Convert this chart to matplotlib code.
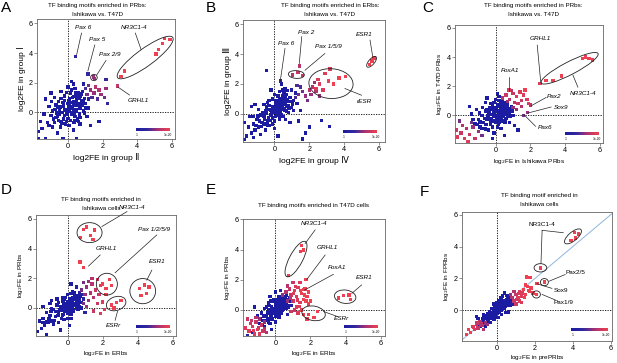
import numpy as np
import matplotlib
matplotlib.use("Agg")
import matplotlib.pyplot as plt
from matplotlib.patches import Ellipse
from matplotlib.colors import LinearSegmentedColormap

plt.rcParams["font.family"] = ["Liberation Sans", "DejaVu Sans"]

# ---- data: (x, y, significance 0=blue .. 1=red) ----
pts_a = [
    (-0.6, -0.3, 0), (-0.5, 0.1, 0), (-0.4, -0.6, 0), (-0.3, 0.4, 0), (-0.2, -0.2, 0), (-0.1, 0.2, 0),
    (0.0, 0.6, 0), (0.0, -0.4, 0), (0.1, 0.1, 0), (0.1, 0.9, 0), (0.2, 0.4, 0), (0.2, -0.1, 0),
    (0.3, 0.7, 0), (0.3, 0.2, 0), (0.4, 0.5, 0), (0.4, -0.3, 0), (0.5, 0.9, 0), (0.5, 0.2, 0),
    (0.6, 0.6, 0), (0.7, 1.1, 0), (0.7, 0.3, 0), (0.8, 0.8, 0), (-0.7, 0.5, 0), (-0.8, -0.7, 0),
    (-0.2, 0.8, 0), (0.15, 1.3, 0), (-0.45, -1.0, 0), (0.35, -0.7, 0), (0.9, 0.1, 0), (-0.15, -0.8, 0),
    (-0.35, 0.0, 0), (0.25, 0.0, 0), (0.05, 0.35, 0), (0.45, 0.05, 0), (-0.05, 0.0, 0), (0.6, 1.3, 0),
    (-0.55, 0.75, 0), (0.85, 1.4, 0), (1.0, 0.6, 0), (-1.0, -0.2, 0), (-1.1, 0.4, 0), (-0.9, -1.0, 0),
    (-1.2, -0.7, 0), (-1.4, -0.1, 0), (-1.5, -1.1, 0), (-1.6, -0.6, 0), (-1.7, -1.3, 0), (-1.7, -1.75, 0),
    (-1.3, -1.75, 0), (-0.6, -1.4, 0), (-0.3, -1.75, 0), (0.5, -1.75, 0), (0.3, -1.2, 0), (0.7, -0.8, 0),
    (1.1, -0.3, 0), (1.2, 0.3, 0), (-0.8, 1.0, 0), (-0.4, 1.4, 0), (0.0, 1.7, 0), (0.3, 1.9, 0),
    (0.4, 1.6, 0), (0.9, 1.9, 0.1), (1.2, 0.9, 0.1), (-1.3, 0.9, 0), (-0.2, 1.1, 0), (0.55, -0.45, 0),
    (-0.65, -0.05, 0), (0.75, 0.55, 0), (0.15, 0.65, 0), (-0.25, 0.55, 0), (0.65, -0.1, 0), (0.95, 0.95, 0),
    (-0.05, -0.15, 0), (0.35, 1.05, 0), (-0.75, 0.2, 0), (1.3, -0.9, 0), (1.8, -0.6, 0), (0.2, 2.1, 0),
    (-1.0, 1.3, 0),
    (-0.45, 0.35, 0), (-0.25, -0.45, 0), (0.05, 0.8, 0), (0.25, 1.0, 0), (0.45, 0.75, 0), (0.65, 0.95, 0),
    (0.55, 0.45, 0), (0.35, -0.1, 0), (0.15, -0.55, 0), (-0.1, -0.6, 0), (-0.3, 0.65, 0), (-0.5, -0.15, 0),
    (0.8, 0.5, 0), (0.9, 0.75, 0), (0.7, -0.35, 0), (0.1, 0.45, 0), (0.0, 0.15, 0), (-0.2, 0.15, 0),
    (0.3, 0.5, 0), (0.5, 0.6, 0), (-0.6, 0.35, 0), (-0.7, -0.35, 0), (-0.9, 0.1, 0), (0.2, 1.5, 0),
    (-0.1, 1.35, 0), (0.55, 1.1, 0), (0.75, 1.25, 0), (1.05, 0.3, 0), (0.95, -0.05, 0), (0.4, -0.55, 0),
    (-0.35, -0.75, 0), (-0.55, -0.55, 0), (-0.85, -0.45, 0), (-1.1, -0.9, 0), (-0.95, 0.75, 0), (0.05, -0.9, 0),
    (0.45, 1.3, 0), (-0.4, 0.95, 0), (0.6, -0.6, 0), (0.25, 0.25, 0),
    (1.1, 1.2, 0.5), (1.3, 1.5, 0.6), (1.5, 1.3, 0.6), (1.6, 1.7, 0.7), (1.8, 1.5, 0.7), (1.4, 1.0, 0.4),
    (1.9, 1.2, 0.6), (2.1, 1.0, 0.5), (2.2, 1.6, 0.6), (1.2, 1.8, 0.5), (1.7, 0.9, 0.4), (2.3, 0.6, 0.3),
    (1.0, 1.6, 0.4), (2.2, 2.2, 0.3),
    (0.44, 3.75, 0.2), (1.15, 2.6, 0.3), (1.48, 2.38, 0.6), (1.55, 2.3, 0.6),
    (3.27, 2.8, 1), (3.08, 2.4, 1), (5.1, 3.93, 1), (5.25, 4.25, 1), (5.48, 4.65, 1), (5.58, 5.0, 1),
    (5.9, 4.9, 1), (2.85, 1.78, 0.8),
]

pts_b = [
    (-0.6, -0.2, 0), (-0.5, 0.2, 0), (-0.4, -0.5, 0), (-0.3, 0.3, 0), (-0.2, -0.1, 0), (-0.1, 0.5, 0),
    (0.0, 0.1, 0), (0.0, -0.5, 0), (0.1, 0.4, 0), (0.1, 0.9, 0), (0.2, 0.2, 0), (0.2, 0.7, 0),
    (0.3, 0.5, 0), (0.3, 1.0, 0), (0.4, 0.3, 0), (0.4, 0.8, 0), (0.5, 0.6, 0), (0.5, 1.2, 0),
    (0.6, 0.2, 0), (0.6, 0.9, 0), (0.7, 0.5, 0), (0.7, 1.3, 0), (0.8, 0.8, 0), (0.9, 1.1, 0),
    (-0.7, -0.6, 0), (-0.8, -0.1, 0), (-0.9, -0.9, 0), (-1.0, -0.4, 0), (-1.1, -1.1, 0), (-1.2, -0.7, 0),
    (-1.3, -1.3, 0), (-1.4, -0.2, 0), (-1.5, -0.9, 0), (-1.6, -1.5, 0), (-1.7, -0.6, 0), (-1.7, -1.75, 0),
    (-1.2, -1.6, 0), (-0.8, -1.4, 0), (-0.5, -1.1, 0), (-0.3, -0.8, 0), (0.0, -1.0, 0), (0.3, -0.4, 0),
    (0.5, -0.2, 0), (0.8, 0.1, 0), (1.0, 0.4, 0), (1.1, 0.9, 0), (1.2, 1.4, 0.1), (1.0, 1.6, 0.1),
    (0.6, 1.7, 0), (0.3, 1.5, 0), (0.0, 1.3, 0), (-0.3, 0.9, 0), (-0.6, 0.6, 0), (-0.9, 0.3, 0),
    (-1.1, 0.6, 0), (-0.2, 1.6, 0), (0.4, 2.0, 0), (0.2, -0.1, 0), (-0.05, 0.25, 0), (0.35, 0.15, 0),
    (0.15, 0.55, 0), (0.45, 0.45, 0), (0.25, 0.85, 0), (-0.15, 0.05, 0), (0.55, 0.75, 0), (-0.35, -0.25, 0),
    (0.65, 0.65, 0), (0.05, -0.2, 0), (0.75, 0.95, 0), (-0.45, 0.45, 0), (0.85, 0.35, 0), (1.3, 0.7, 0),
    (1.5, 0.2, 0), (1.4, -0.5, 0), (0.9, -0.6, 0), (1.8, -1.3, 0), (2.0, -0.9, 0), (2.7, -0.45, 0),
    (3.15, -0.85, 0), (-0.44, 2.88, 0), (-1.3, 0.5, 0), (0.2, -1.5, 0), (1.6, -1.7, 0),
    (-0.45, 0.05, 0), (-0.25, -0.45, 0), (0.05, 0.7, 0), (0.25, 0.35, 0), (0.45, 1.05, 0), (0.65, 1.1, 0),
    (0.55, 0.35, 0), (0.35, 0.65, 0), (0.15, 0.05, 0), (-0.1, -0.3, 0), (-0.3, 0.55, 0), (-0.55, -0.4, 0),
    (0.8, 0.55, 0), (0.95, 0.8, 0), (0.7, 0.15, 0), (0.1, 0.2, 0), (0.0, 0.45, 0), (-0.2, 0.25, 0),
    (0.3, -0.15, 0), (0.5, 0.95, 0), (-0.65, 0.05, 0), (-0.75, -0.85, 0), (-0.95, -0.15, 0), (0.2, 1.2, 0),
    (-0.1, 1.0, 0), (0.55, 1.45, 0), (0.75, 1.55, 0), (1.05, 0.65, 0), (1.1, 0.2, 0), (0.4, -0.05, 0),
    (-0.4, -0.75, 0), (-0.6, -0.7, 0), (-0.85, -0.5, 0), (-1.05, -0.8, 0), (-1.2, -0.2, 0), (-0.1, -0.7, 0),
    (0.45, 1.6, 0), (-0.4, 0.75, 0), (0.65, -0.4, 0), (0.25, 0.6, 0),
    (1.2, 1.1, 0.4), (1.4, 1.3, 0.5), (1.6, 1.5, 0.5), (1.8, 1.2, 0.6), (2.0, 1.6, 0.7), (2.2, 1.8, 0.7),
    (2.1, 1.3, 0.6), (2.4, 1.5, 0.7), (1.5, 1.8, 0.4), (1.3, 1.9, 0.4), (2.6, 1.2, 0.6), (1.9, 0.9, 0.5),
    (2.3, 2.1, 0.6),
    (0.34, 2.2, 0.2), (1.45, 3.2, 0.7), (1.05, 2.6, 0.7), (1.35, 2.75, 0.8), (1.6, 2.55, 0.8),
    (2.4, 1.7, 0.9), (2.6, 2.0, 0.9), (2.9, 2.7, 0.9), (3.1, 2.2, 1), (3.4, 2.0, 1), (3.7, 2.4, 1),
    (4.1, 2.5, 1), (2.8, 1.6, 0.9), (3.2, 3.0, 0.9), (2.5, 2.3, 0.9),
    (5.45, 3.3, 1), (5.6, 3.55, 1), (5.72, 3.75, 1),
]

pts_c = [
    (-0.5, -0.3, 0), (-0.4, 0.2, 0), (-0.3, -0.6, 0), (-0.2, 0.4, 0), (-0.1, -0.1, 0), (0.0, 0.3, 0),
    (0.0, -0.5, 0), (0.1, 0.0, 0), (0.1, 0.7, 0), (0.2, 0.3, 0), (0.2, -0.3, 0), (0.3, 0.5, 0),
    (0.3, 0.0, 0), (0.4, 0.2, 0), (0.4, -0.4, 0), (0.5, 0.4, 0), (0.5, 0.9, 0), (0.6, 0.1, 0),
    (0.6, -0.2, 0), (0.7, 0.5, 0), (-0.6, 0.3, 0), (-0.7, -0.5, 0), (-0.8, 0.0, 0), (-0.9, -0.8, 0),
    (-1.0, -0.3, 0), (-1.1, 0.4, 0), (-1.2, -0.6, 0), (-0.4, -1.0, 0), (-0.1, -1.2, 0), (0.3, -0.9, 0),
    (0.8, -0.5, 0), (1.0, 0.0, 0), (0.9, 0.6, 0), (0.3, 1.0, 0), (0.0, 1.1, 0), (-0.3, 0.8, 0),
    (-0.5, 1.2, 0), (0.1, 1.5, 0), (-0.2, -1.6, 0), (0.5, -1.4, 0), (0.15, 0.15, 0), (-0.05, 0.55, 0),
    (0.25, -0.15, 0), (0.35, 0.35, 0), (-0.25, 0.05, 0), (0.45, 0.65, 0), (0.05, -0.25, 0), (-0.15, -0.4, 0),
    (0.55, 0.15, 0), (0.65, 0.75, 0), (-0.35, 0.5, 0), (0.75, 0.25, 0), (-0.45, -0.15, 0), (0.85, -0.1, 0),
    (1.1, -0.7, 0), (1.3, -1.0, 0), (-1.4, 0.1, 0), (-1.5, 0.6, 0), (-0.6, 0.9, 0), (0.2, 1.3, 0),
    (-0.45, 0.0, 0), (-0.25, -0.25, 0), (0.05, 0.45, 0), (0.25, 0.65, 0), (0.45, -0.1, 0), (0.65, 0.35, 0),
    (0.55, -0.45, 0), (0.35, -0.3, 0), (0.15, -0.6, 0), (-0.1, 0.15, 0), (-0.3, -0.35, 0), (-0.55, -0.65, 0),
    (0.8, 0.15, 0), (0.95, 0.3, 0), (0.7, -0.05, 0), (0.1, 0.3, 0), (0.0, -0.05, 0), (-0.2, 0.65, 0),
    (0.3, 0.8, 0), (0.5, 0.6, 0), (-0.65, -0.2, 0), (-0.75, 0.55, 0), (-0.95, 0.15, 0), (0.2, 1.0, 0),
    (-0.1, 0.9, 0), (0.4, 0.95, 0), (-0.8, -0.9, 0), (-1.05, -0.65, 0), (-0.5, 0.4, 0), (0.2, -0.45, 0),
    (-0.35, 0.25, 0), (0.85, 0.45, 0), (-0.6, -0.95, 0), (-0.2, -0.8, 0), (0.6, 0.55, 0), (0.1, -0.85, 0),
    (-0.9, -0.45, 0), (-1.3, -0.3, 0), (0.45, 0.3, 0), (0.25, 0.1, 0),
    (0.4, 1.2, 0.7), (0.6, 1.4, 0.8), (0.8, 1.1, 0.7), (1.0, 1.5, 0.8), (1.2, 1.3, 0.9), (1.4, 1.6, 0.9),
    (1.6, 1.4, 0.9), (1.7, 1.75, 1), (1.1, 0.9, 0.7), (1.3, 0.8, 0.8), (1.5, 1.0, 0.8), (1.8, 1.1, 0.9),
    (0.9, 1.7, 0.7), (1.2, 0.4, 0.6), (1.5, 0.6, 0.7), (1.9, 0.8, 0.9), (0.7, 0.95, 0.6), (1.0, 0.55, 0.6),
    (-2.2, -1.5, 0.9), (-2.0, -1.2, 0.8), (-1.8, -1.6, 0.9), (-1.7, -0.9, 0.7), (-1.5, -1.3, 0.8),
    (-1.3, -0.8, 0.6), (-1.2, -1.6, 0.8), (-1.0, -1.1, 0.6), (-1.9, -0.7, 0.7), (-2.3, -1.0, 0.8),
    (-1.6, -1.8, 0.9), (-0.8, -1.4, 0.5), (-1.4, -0.5, 0.5), (-2.1, -0.4, 0.5),
    (2.55, 2.2, 0.9), (2.9, 2.4, 1), (3.3, 2.4, 1), (3.8, 2.7, 1), (5.0, 3.9, 1), (5.2, 4.0, 1),
    (5.4, 3.9, 1), (5.6, 3.8, 1), (0.77, 1.75, 0.9), (2.0, 0.7, 0.7), (1.85, 0.2, 0.6), (1.6, 0.0, 0.5),
]

pts_d = [
    (-0.5, -0.3, 0), (-0.4, 0.1, 0), (-0.3, -0.5, 0), (-0.2, 0.3, 0), (-0.1, -0.1, 0), (0.0, 0.4, 0),
    (0.0, -0.4, 0), (0.1, 0.1, 0), (0.1, 0.6, 0), (0.2, 0.2, 0), (0.2, -0.2, 0), (0.3, 0.5, 0),
    (0.3, 0.0, 0), (0.4, 0.3, 0), (0.4, 0.8, 0), (0.5, 0.5, 0), (0.5, 0.0, 0), (0.6, 0.7, 0),
    (0.6, 0.2, 0), (0.7, 0.4, 0), (-0.6, 0.2, 0), (-0.7, -0.6, 0), (-0.8, -0.1, 0), (-0.9, -0.9, 0),
    (-1.0, -0.5, 0), (-1.1, -1.0, 0), (-1.2, -0.3, 0), (-1.3, -1.2, 0), (-1.4, -0.7, 0), (-1.5, -1.4, 0),
    (-1.6, -0.9, 0), (-1.7, -1.6, 0), (-1.0, 0.3, 0), (-0.5, -1.0, 0), (-0.2, -0.8, 0), (0.2, -0.7, 0),
    (0.8, 0.0, 0), (0.9, 0.6, 0.1), (0.7, 1.0, 0.1), (0.3, 1.1, 0), (0.0, 0.9, 0), (-0.3, 0.7, 0),
    (-0.6, 0.6, 0), (0.15, 0.35, 0), (-0.05, 0.15, 0), (0.25, -0.05, 0), (0.35, 0.25, 0), (-0.15, -0.25, 0),
    (0.45, 0.55, 0), (0.05, -0.15, 0), (0.55, 0.25, 0), (-0.35, -0.15, 0), (0.65, 0.45, 0), (-0.25, 0.45, 0),
    (0.1, -1.2, 0), (-0.9, 0.5, 0), (-1.4, 0.1, 0), (0.5, 1.4, 0.1), (0.2, 1.6, 0), (-0.4, -1.5, 0),
    (1.0, -0.3, 0.2), (-1.2, -1.8, 0),
    (-0.45, -0.1, 0), (-0.25, -0.45, 0), (0.05, 0.25, 0), (0.25, 0.45, 0), (0.45, 0.15, 0), (0.65, 0.65, 0),
    (0.55, 0.85, 0), (0.35, -0.2, 0), (0.15, -0.4, 0), (-0.1, 0.2, 0), (-0.3, 0.1, 0), (-0.55, -0.5, 0),
    (0.8, 0.35, 0), (0.75, 0.75, 0), (0.7, 0.05, 0), (0.1, 0.35, 0), (0.0, 0.0, 0), (-0.2, -0.05, 0),
    (0.3, 0.7, 0), (0.5, 0.35, 0), (-0.65, -0.25, 0), (-0.75, -0.85, 0), (-0.95, -0.25, 0), (0.2, 0.95, 0),
    (-0.1, 0.7, 0), (0.4, 1.05, 0), (-0.8, -1.1, 0), (-1.05, -0.75, 0), (-0.5, 0.35, 0), (0.2, -0.45, 0),
    (-0.35, -0.7, 0), (0.85, 0.9, 0.1), (-1.2, -0.95, 0), (-0.2, 0.55, 0), (0.6, -0.1, 0), (0.0, -0.7, 0),
    (-0.9, -0.05, 0), (-1.4, -1.0, 0), (0.45, 0.65, 0), (0.25, 0.15, 0),
    (0.8, 1.2, 0.5), (1.0, 0.9, 0.6), (1.1, 1.4, 0.6), (1.2, 0.5, 0.6), (1.3, 1.0, 0.7), (1.4, 1.6, 0.7),
    (1.5, 0.7, 0.7), (1.6, 1.2, 0.8), (1.7, 0.3, 0.8), (1.8, 0.9, 0.8), (1.9, 1.5, 0.9), (2.0, 0.4, 0.9),
    (1.2, 1.8, 0.6), (0.9, 1.7, 0.5), (1.5, -0.2, 0.8), (1.9, -0.4, 0.9), (2.2, 0.9, 1), (2.1, -0.1, 0.9),
    (0.9, 0.3, 0.5), (1.1, 0.1, 0.6), (1.4, 2.0, 0.7), (1.7, 1.9, 0.8),
    (0.9, 5.3, 1), (1.1, 5.45, 1), (1.3, 4.9, 1), (1.55, 5.25, 1), (0.75, 4.75, 1), (1.45, 4.6, 1),
    (0.91, 2.73, 1), (0.72, 3.1, 1),
    (2.0, 1.6, 1), (2.4, 1.9, 1), (2.2, 1.3, 1), (2.5, 1.5, 1),
    (4.1, 1.3, 1), (4.4, 1.55, 1), (4.65, 1.4, 1), (4.2, 0.85, 1), (4.5, 0.95, 1),
    (2.5, 0.2, 1), (2.8, 0.35, 1), (3.05, 0.5, 1), (2.65, 0.0, 1),
]

pts_e = [
    (-0.5, -0.4, 0), (-0.4, 0.0, 0), (-0.3, -0.6, 0), (-0.2, 0.2, 0), (-0.1, -0.2, 0), (0.0, 0.3, 0),
    (0.0, -0.4, 0), (0.1, 0.0, 0), (0.1, 0.5, 0), (0.2, 0.2, 0), (0.2, -0.2, 0), (0.3, 0.4, 0),
    (0.3, 0.0, 0), (0.4, 0.6, 0), (0.4, 0.2, 0), (0.5, 0.4, 0), (0.5, 0.9, 0), (0.6, 0.1, 0),
    (0.6, 0.7, 0), (0.7, 0.3, 0), (-0.6, 0.1, 0), (-0.7, -0.7, 0), (-0.8, -0.2, 0), (-0.9, -0.9, 0),
    (-1.0, -0.4, 0), (-0.6, -1.1, 0), (-0.3, -0.9, 0), (0.0, -0.8, 0), (-0.4, 0.5, 0), (-0.1, 0.7, 0),
    (0.2, 0.9, 0), (0.15, 0.25, 0), (-0.05, 0.05, 0), (0.25, -0.05, 0), (-0.15, -0.15, 0), (0.35, 0.2, 0),
    (-0.25, -0.35, 0), (0.05, 0.45, 0), (-0.35, -0.2, 0), (0.45, 0.45, 0), (-0.45, -0.55, 0), (0.55, 0.55, 0),
    (0.0, 1.2, 0), (-0.3, 0.9, 0), (0.3, 1.3, 0.1), (0.8, 0.8, 0.1), (0.9, 0.3, 0.1), (-0.2, -1.3, 0),
    (-1.3, -1.5, 0.2), (-1.6, -1.7, 0.2), (0.7, -0.3, 0.1), (-1.2, 0.2, 0),
    (-0.45, -0.2, 0), (-0.25, -0.55, 0), (0.05, 0.2, 0), (0.25, 0.55, 0), (0.45, 0.05, 0), (0.65, 0.45, 0),
    (0.55, 0.75, 0), (0.35, -0.2, 0), (0.15, -0.35, 0), (-0.1, 0.1, 0), (-0.3, -0.1, 0), (-0.55, -0.7, 0),
    (0.8, 0.55, 0), (0.75, 0.15, 0), (0.6, 0.3, 0), (0.1, 0.35, 0), (0.0, 0.0, 0), (-0.2, 0.0, 0),
    (0.3, 0.65, 0), (0.5, 0.2, 0), (-0.65, -0.4, 0), (-0.75, -0.95, 0), (-0.85, -0.55, 0), (0.2, 0.75, 0),
    (-0.1, 0.55, 0), (0.4, 0.85, 0), (-0.4, -0.8, 0), (-0.15, -0.6, 0), (-0.5, 0.2, 0), (0.2, -0.45, 0),
    (-0.35, 0.3, 0), (0.1, -0.2, 0), (0.05, 0.7, 0), (0.65, 0.95, 0), (-0.25, 0.6, 0), (0.4, -0.05, 0),
    (-1.5, -1.4, 0.9), (-1.3, -1.1, 0.9), (-1.2, -1.6, 0.9), (-1.1, -0.8, 0.8), (-1.0, -1.3, 0.9),
    (-0.9, -1.6, 0.9), (-0.8, -1.0, 0.8), (-0.7, -1.4, 0.8), (-1.4, -0.9, 0.8), (-1.7, -1.2, 0.9),
    (-0.5, -1.5, 0.7), (-1.1, -0.5, 0.7), (-0.6, -0.8, 0.6), (-0.9, -0.6, 0.6), (-1.6, -0.6, 0.8),
    (-1.25, -1.35, 0.9), (-0.95, -1.2, 0.8), (-0.6, -1.25, 0.7), (-1.35, -0.7, 0.8),
    (0.6, 1.2, 0.7), (0.8, 1.4, 0.8), (0.9, 1.0, 0.8), (1.0, 0.6, 0.8), (1.1, 1.3, 0.9), (1.2, 0.9, 0.9),
    (1.3, 1.5, 0.9), (1.4, 0.5, 0.9), (1.5, 1.1, 1), (1.6, 0.7, 1), (1.7, 1.4, 1), (1.8, 0.9, 1),
    (1.9, 0.4, 1), (1.2, 0.2, 0.9), (1.5, 0.0, 1), (1.0, 1.8, 0.8), (1.4, 1.8, 0.9), (0.7, 1.6, 0.7),
    (1.9, 1.2, 1), (2.0, 0.6, 1), (0.9, -0.1, 0.8), (1.1, 0.0, 0.8), (0.7, 0.6, 0.6), (1.6, -0.3, 1),
    (0.4, 1.0, 0.6), (1.05, 1.1, 0.9), (1.25, 0.65, 0.9), (1.45, 1.3, 1), (1.65, 1.0, 1), (0.85, 0.75, 0.7),
    (1.35, 0.25, 0.9), (1.15, 1.55, 0.9), (1.75, 0.6, 1), (1.3, -0.2, 0.9),
    (0.76, 2.3, 1), (1.42, 3.86, 1), (1.6, 3.97, 1), (1.5, 4.25, 1), (1.75, 2.0, 1), (1.62, 1.35, 1),
    (3.6, 0.8, 1), (3.9, 0.95, 1), (4.2, 1.0, 1), (4.3, 0.7, 1),
    (1.9, -0.3, 1), (2.2, -0.5, 1), (2.4, -0.1, 1), (1.8, -0.6, 1),
]

pts_f = [
    (-0.8, -0.7, 0), (-0.7, -0.9, 0), (-0.6, -0.5, 0), (-0.5, -0.7, 0), (-0.4, -0.3, 0), (-0.3, -0.5, 0),
    (-0.2, -0.1, 0), (-0.1, -0.3, 0), (0.0, 0.1, 0), (0.0, -0.2, 0), (0.1, 0.3, 0), (0.1, -0.1, 0),
    (0.2, 0.4, 0), (0.2, 0.0, 0), (0.3, 0.2, 0), (0.3, 0.6, 0), (0.4, 0.4, 0), (0.4, 0.1, 0),
    (0.5, 0.7, 0), (0.5, 0.3, 0), (0.6, 0.5, 0), (0.6, 0.9, 0), (0.7, 0.6, 0), (0.7, 0.3, 0),
    (-0.9, -1.0, 0), (-0.5, -0.2, 0), (-0.3, 0.1, 0), (-0.1, 0.3, 0), (0.1, 0.6, 0), (0.3, 0.9, 0),
    (-0.6, -1.0, 0), (-0.35, -0.75, 0), (-0.15, -0.55, 0), (0.05, -0.45, 0), (0.25, -0.25, 0), (0.45, -0.15, 0),
    (0.15, 0.15, 0), (-0.05, 0.0, 0), (0.35, 0.35, 0), (-0.25, -0.2, 0), (0.55, 0.55, 0), (-0.45, -0.45, 0),
    (0.0, 0.5, 0), (-0.2, 0.4, 0), (0.2, 0.8, 0), (0.8, 0.4, 0.1), (-0.7, -0.3, 0), (-1.0, -0.5, 0),
    (0.4, 1.1, 0), (-1.1, -0.4, 0), (0.6, -0.1, 0),
    (-0.75, -0.55, 0), (-0.65, -0.75, 0), (-0.55, -0.35, 0), (-0.45, -0.6, 0), (-0.35, -0.15, 0),
    (-0.25, -0.4, 0), (-0.15, 0.05, 0), (-0.05, -0.15, 0), (0.05, 0.2, 0), (0.15, 0.45, 0), (0.25, 0.3, 0),
    (0.35, 0.6, 0), (0.45, 0.5, 0), (0.55, 0.8, 0), (0.65, 0.7, 0), (0.05, -0.05, 0), (0.25, 0.05, 0),
    (0.45, 0.25, 0), (-0.1, 0.15, 0), (-0.3, -0.3, 0), (-0.5, -0.5, 0), (-0.7, -0.65, 0), (0.15, 0.3, 0),
    (0.35, 0.15, 0), (0.6, 0.3, 0), (-0.2, -0.35, 0), (0.0, 0.3, 0), (0.3, 0.45, 0), (-0.4, -0.1, 0),
    (0.5, 0.95, 0),
    (0.8, 0.8, 0.7), (0.9, 0.6, 0.8), (1.0, 1.0, 0.8), (1.1, 0.8, 0.9), (1.2, 1.2, 0.9), (1.3, 0.9, 0.9),
    (1.4, 1.3, 1), (1.5, 1.0, 1), (1.6, 1.5, 1), (1.7, 1.2, 1), (1.8, 1.4, 1), (1.9, 1.1, 1),
    (1.0, 0.4, 0.8), (1.2, 0.6, 0.9), (0.9, 1.2, 0.7), (1.5, 1.6, 1), (1.75, 2.05, 1), (1.55, 2.1, 1),
    (0.7, 1.0, 0.6), (1.3, 0.5, 0.9), (1.05, 0.7, 0.8), (1.15, 1.05, 0.9), (1.35, 1.1, 0.9), (1.45, 0.8, 1),
    (1.65, 1.25, 1),
    (-0.6, -0.8, 0.6), (-0.8, -0.95, 0.7), (-0.9, -0.7, 0.7), (-1.0, -1.1, 0.8), (-1.1, -0.9, 0.8),
    (-1.2, -1.2, 0.9), (-1.3, -1.0, 0.9), (-1.4, -1.4, 1), (-0.7, -1.2, 0.7), (-1.5, -1.2, 1),
    (-1.6, -1.5, 1), (-0.5, -0.9, 0.6), (-0.85, -0.85, 0.7), (-1.05, -0.8, 0.8), (-1.25, -1.05, 0.9),
    (3.9, 4.4, 1), (4.1, 4.9, 1), (4.3, 4.8, 1), (4.15, 4.55, 1), (2.3, 2.65, 1),
    (2.5, 1.77, 1), (2.11, 1.67, 1), (2.08, 1.0, 1),
]

# annotation text: (label, label_xy, line_from, line_to)
notes_a = [("Pax 6", (0.87, 5.7), (0.78, 5.35), (0.5, 3.9)),
           ("Pax 5", (1.67, 4.9), (1.55, 4.55), (1.15, 2.8)),
           ("Pax 2/9", (2.4, 3.9), (2.2, 3.5), (1.65, 2.5)),
           ("NR3C1-4", (3.85, 5.7), (3.9, 5.35), (4.23, 4.25)),
           ("GRHL1", (4.1, 0.83), (3.56, 1.17), (2.9, 1.7))]
notes_b = [("Pax 2", (1.8, 5.44), (1.57, 5.17), (1.43, 3.37)),
           ("Pax 6", (0.7, 4.72), (0.61, 4.38), (0.34, 2.2)),
           ("Pax 1/5/9", (3.1, 4.5), (2.9, 4.04), (1.76, 2.92)),
           ("rESR", (5.2, 0.8), (5.0, 1.24), (4.05, 1.69)),
           ("ESR1", (5.16, 5.33), (5.49, 4.94), (5.64, 3.87))]
notes_c = [("GRHL1", (2.6, 5.27), (2.4, 4.82), (2.6, 2.32)),
           ("NR3C1-4", (5.04, 1.52), (4.75, 1.93), (4.46, 2.77)),
           ("FoxA1", (0.8, 3.07), (0.77, 2.66), (0.77, 1.7)),
           ("Pax2", (3.4, 1.3), (2.92, 1.23), (2.06, 0.66)),
           ("Sox9", (3.75, 0.57), (3.2, 0.57), (1.87, 0.16)),
           ("Pax6", (2.83, -0.86), (2.3, -0.75), (1.63, 0.05))]
notes_d = [("NR3C1-4", (3.7, 6.77), (3.4, 6.5), (1.96, 5.49)),
           ("GRHL1", (2.2, 4.0), (1.87, 3.57), (1.2, 2.82)),
           ("Pax 1/2/5/9", (4.95, 5.26), (5.1, 4.92), (2.72, 2.37)),
           ("ESR1", (5.1, 3.1), (4.82, 2.55), (4.53, 1.87)),
           ("ESRr", (2.63, -1.22), (2.72, -0.84), (2.86, -0.23))]
notes_e = [("NR3C1-4", (2.18, 5.74), (2.27, 5.3), (1.7, 4.4)),
           ("GRHL1", (2.94, 4.13), (2.84, 3.64), (1.8, 2.03)),
           ("FoxA1", (3.5, 2.83), (3.31, 2.36), (1.67, 1.32)),
           ("ESR1", (5.08, 2.16), (4.92, 1.66), (4.36, 1.1)),
           ("ESRr", (3.79, -0.55), (3.56, -0.44), (2.75, -0.1))]
notes_f = [("NR3C1-4", (2.39, 5.37), (2.38, 5.02), (3.5, 4.87)),
           (None, None, (2.38, 5.02), (2.32, 2.95)),
           ("Pax2/5", (4.14, 2.4), (3.6, 2.25), (2.75, 1.83)),
           ("Sox9", (3.38, 1.27), (2.9, 1.38), (2.11, 1.67)),
           ("Pax1/9", (3.49, 0.52), (3.08, 0.65), (2.38, 1.0))]

# ellipses: (center, width, height, angle)
ell_a = [((4.47, 3.7), 4.2, 1.1, 41), ((1.5, 2.35), 0.38, 0.42, 0)]
ell_b = [((1.26, 2.63), 0.92, 0.52, -5), ((3.25, 2.02), 2.54, 2.0, -5), ((5.58, 3.48), 0.85, 0.35, 55)]
ell_c = [((4.27, 3.23), 3.86, 0.85, 32)]
ell_d = [((1.26, 5.08), 1.43, 1.35, 0), ((2.25, 1.6), 1.2, 1.47, 0),
         ((4.3, 1.13), 1.47, 1.7, 0), ((2.78, 0.29), 1.18, 0.9, 30)]
ell_e = [((1.18, 3.37), 2.55, 0.77, 66), ((3.98, 0.88), 1.23, 0.88, -10), ((2.18, -0.22), 1.36, 0.95, -15)]
ell_f = [((4.01, 4.64), 1.2, 0.5, 47), ((2.29, 2.67), 0.67, 0.52, 0),
         ((2.5, 1.77), 0.42, 0.45, 0), ((2.08, 1.0), 0.42, 0.45, 0)]

# panel titles, one entry per line: (x px, y px, text)
title_lines = [(97, 6, "TF binding motifs enriched in PRbs:"), (97, 14.5, "Ishikawa vs. T47D"),
               (330, 6, "TF binding motifs enriched in ERbs:"), (330, 14.5, "Ishikawa vs. T47D"),
               (533, 5, "TF binding motifs enriched in PRbs:"), (533, 14.5, "Ishikawa vs. T47D"),
               (101, 199, "TF binding motifs enriched in"), (101, 208, "Ishikawa cells"),
               (313, 205, "TF binding motifs enriched in T47D cells"),
               (539, 195, "TF binding motif enriched in"), (539, 204, "Ishikawa cells")]

cmap = LinearSegmentedColormap.from_list("sig", ["#1c1ca2", "#34299f", "#b03272", "#ee4050"])

W, H = 617, 363
fig = plt.figure(figsize=(W / 100, H / 100), dpi=100)


def px_box(l, r, t, b):
    return [l / W, 1 - b / H, (r - l) / W, (b - t) / H]


def panel(box, pts, xlim, ylim, notes, ells, cbar, italic=True, diag=False):
    ax = fig.add_axes(px_box(*box))
    ax.axvline(0, color="k", lw=0.6, ls=(0, (1.5, 1.5)), zorder=1)
    ax.axhline(0, color="k", lw=0.6, ls=(0, (1.5, 1.5)), zorder=1)
    if diag:
        ax.plot([xlim[0], xlim[1]], [xlim[0], xlim[1]], color="#8fb4dc", lw=0.7, zorder=1)
    arr = np.array(pts)
    arr = arr[np.argsort(arr[:, 2], kind="stable")]
    ax.scatter(arr[:, 0], arr[:, 1], c=arr[:, 2], cmap=cmap, vmin=0, vmax=1,
               s=6, marker="s", linewidths=0, zorder=2)
    for c, w, h, a in ells:
        ax.add_patch(Ellipse(c, w, h, angle=a, fill=False, ec="#222222", lw=0.6, zorder=3))
    for lab, lxy, p0, p1 in notes:
        ax.plot([p0[0], p1[0]], [p0[1], p1[1]], color="#222222", lw=0.5, zorder=3, clip_on=False)
        if lab:
            ax.text(lxy[0], lxy[1], lab, fontsize=4.6, ha="center", va="center",
                    style="italic" if italic else "normal", clip_on=False)
    # colour key
    x0, x1, y0, y1 = cbar
    grad = np.linspace(0, 1, 64)[None, :]
    ax.imshow(grad, cmap=cmap, extent=[x0, x1, y0, y1], aspect="auto", zorder=4)
    ax.text(x0 + 0.05, y0 - 0.12, "1", fontsize=2.3, ha="center", va="top")
    ax.text(x1 - 0.1, y0 - 0.12, "1e-20", fontsize=2.3, ha="center", va="top")
    ax.set_xlim(*xlim)
    ax.set_ylim(*ylim)
    ax.set_xticks([0, 2, 4, 6])
    ax.set_yticks([0, 2, 4, 6])
    for s in ax.spines.values():
        s.set_color("#666666")
        s.set_linewidth(0.6)
    ax.tick_params(length=2, width=0.5, color="#666666", labelsize=5.2, pad=1.2)
    return ax


ax = panel((37, 175, 19, 139), pts_a, (-1.8, 6.2), (-1.8, 6.3), notes_a, ell_a, (3.95, 5.87, -1.26, -1.08))
ax.set_xlabel("log2FE in group Ⅱ", fontsize=6, labelpad=2)
ax.set_ylabel("log2FE in group Ⅰ", fontsize=6, labelpad=2)

ax = panel((243, 385, 20, 142), pts_b, (-1.8, 6.35), (-1.9, 6.29), notes_b, ell_b, (3.95, 5.9, -1.3, -1.12))
ax.set_xlabel("log2FE in group Ⅳ", fontsize=6, labelpad=2)
ax.set_ylabel("log2FE in group Ⅲ", fontsize=6, labelpad=2)

ax = panel((455, 603, 25, 143), pts_c, (-2.35, 6.2), (-1.9, 6.2), notes_c, ell_c, (3.98, 5.94, -1.36, -1.2))
ax.set_xlabel("log$_2$FE in Ishikawa PRbs", fontsize=4.6, labelpad=2)
ax.set_ylabel("log$_2$FE in T47D PRbs", fontsize=4.6, labelpad=2)

ax = panel((36, 176, 215, 336), pts_d, (-1.8, 6.2), (-1.9, 6.27), notes_d, ell_d, (3.92, 5.83, -1.35, -1.17))
ax.set_xlabel("log$_2$FE in ERbs", fontsize=4.6, labelpad=1)
ax.set_ylabel("log$_2$FE in PRbs", fontsize=4.6, labelpad=2)

ax = panel((243, 385, 219, 336), pts_e, (-1.84, 6.25), (-1.72, 6.02), notes_e, ell_e, (3.94, 5.83, -1.21, -1.06))
ax.set_xlabel("log$_2$FE in ERbs", fontsize=4.6, labelpad=1)
ax.set_ylabel("log$_2$FE in PRbs", fontsize=4.6, labelpad=2)

ax = panel((462, 612, 212, 341), pts_f, (-1.85, 6.07), (-1.92, 6.17), notes_f, ell_f,
           (3.93, 5.86, -1.29, -1.12), italic=False, diag=True)
ax.set_xlabel("log$_2$FE in prePRbs", fontsize=4.6, labelpad=0.3)
ax.set_ylabel("log$_2$FE in FPRbs", fontsize=4.6, labelpad=2)

for x, y, t in title_lines:
    fig.text(x / W, 1 - y / H, t, fontsize=4.5, ha="center", va="center")

for x, y, t in [(1, 1, "A"), (206, 1, "B"), (422, 1, "C"), (1, 183, "D"), (206, 183, "E"), (420, 185, "F")]:
    fig.text(x / W, 1 - y / H, t, fontsize=11, ha="left", va="top")

fig.savefig("out.png", dpi=100)
